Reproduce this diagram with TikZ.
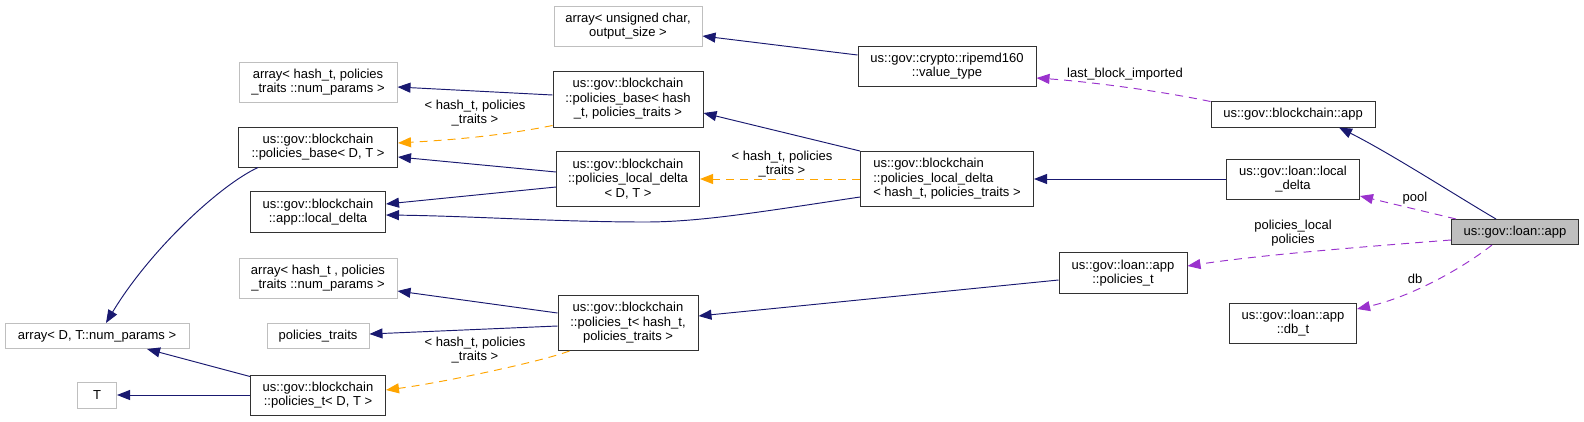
\documentclass[tikz,border=0pt]{standalone}
\usepackage{fontspec}
\setmainfont{Liberation Sans}
\usetikzlibrary{arrows.meta,calc}
\definecolor{navy}{RGB}{25,25,112}
\definecolor{dorange}{RGB}{255,165,0}
\definecolor{dpurple}{RGB}{154,50,205}
\definecolor{gborder}{RGB}{191,191,191}
\definecolor{bborder}{RGB}{50,50,50}
\definecolor{gfill}{RGB}{191,191,191}
\begin{document}
\begin{tikzpicture}[x=1pt,y=-1pt,
  font=\fontsize{13}{14.5}\selectfont,
  cls/.style={draw=bborder,line width=1pt,inner sep=0pt,align=center,fill=white},
  ext/.style={draw=gborder,line width=1pt,inner sep=0pt,align=center,fill=white},
  cur/.style={cls,fill=gfill},
  tip/.style={-{Triangle[length=13pt,width=10pt]}},
  inh/.style={draw=navy,line width=0.95pt,tip},
  tmpl/.style={draw=dorange,line width=0.95pt,dash pattern=on 8pt off 6pt,tip},
  usage/.style={draw=dpurple,line width=0.95pt,dash pattern=on 8pt off 6pt,tip},
  lbl/.style={inner sep=0pt,align=center}]
\useasboundingbox (0,0) rectangle (1584,421);

% nodes
\node[ext,minimum width=148pt,minimum height=40pt] (arrUC) at (628,26) {array< unsigned char,\\output\_size >};
\node[cls,minimum width=178pt,minimum height=40pt] (ripemd) at (947,66) {us::gov::crypto::ripemd160\\::value\_type};
\node[cls,minimum width=164pt,minimum height=26pt] (bapp) at (1293,114) {us::gov::blockchain::app};
\node[ext,minimum width=158pt,minimum height=40pt] (arrHP) at (318,82) {array< hash\_t, policies\\\_traits ::num\_params >};
\node[cls,minimum width=150pt,minimum height=56pt] (pbHP) at (628,99) {us::gov::blockchain\\::policies\_base< hash\\\_t, policies\_traits >};
\node[cls,minimum width=159pt,minimum height=40pt] (pbDT) at (318,147) {us::gov::blockchain\\::policies\_base< D, T >};
\node[cls,minimum width=143pt,minimum height=55pt] (pldDT) at (628,179) {us::gov::blockchain\\::policies\_local\_delta\\< D, T >};
\node[cls,minimum width=173pt,minimum height=55pt,align=left] (pldHP) at (947,179) {us::gov::blockchain\\::policies\_local\_delta\\< hash\_t, policies\_traits >};
\node[cls,minimum width=135pt,minimum height=41pt] (appLD) at (318,212) {us::gov::blockchain\\::app::local\_delta};
\node[cls,minimum width=133pt,minimum height=40pt] (lld) at (1293,179) {us::gov::loan::local\\\_delta};
\node[cur,minimum width=127pt,minimum height=25pt] (lapp) at (1515,232) {us::gov::loan::app};
\node[cls,minimum width=128pt,minimum height=41pt] (lpt) at (1123,273) {us::gov::loan::app\\::policies\_t};
\node[cls,minimum width=127pt,minimum height=40pt] (dbt) at (1293,323) {us::gov::loan::app\\::db\_t};
\node[ext,minimum width=158pt,minimum height=40pt] (arrHP2) at (318,278) {array< hash\_t , policies\\\_traits ::num\_params >};
\node[ext,minimum width=184pt,minimum height=25pt] (arrDT) at (97,336) {array< D, T::num\_params >};
\node[ext,minimum width=102pt,minimum height=25pt] (ptraits) at (318,336) {policies\_traits};
\node[cls,minimum width=140pt,minimum height=55pt] (ptHP) at (628,323) {us::gov::blockchain\\::policies\_t< hash\_t,\\policies\_traits >};
\node[ext,minimum width=39pt,minimum height=26pt] (T) at (97,395) {T};
\node[cls,minimum width=135pt,minimum height=40pt] (ptDT) at (318,395) {us::gov::blockchain\\::policies\_t< D, T >};

% edges
\draw[inh] ($(ripemd.west)+(0,-11)$) -- ($(arrUC.east)+(0,10)$);
\draw[usage] ($(bapp.north west)+(0,1)$) .. controls (1150,89) and (1080,81) .. ($(ripemd.east)+(0,12)$);
\draw[inh] ($(lapp.north)+(-19,0)$) .. controls (1460,198) and (1390,153) .. ($(bapp.south)+(46,0)$);
\draw[usage] ($(lapp.north west)+(5,0)$) -- ($(lld.east)+(0,17)$);
\draw[usage] ($(lapp.west)+(0,8)$) .. controls (1360,247) and (1260,255) .. ($(lpt.east)+(0,-7)$);
\draw[usage] ($(lapp.south)+(-23,0)$) .. controls (1460,270) and (1410,297) .. ($(dbt.east)+(0,-14)$);
\draw[inh] (lld.west) -- (pldHP.east);
\draw[inh] (pldHP.north west) -- ($(pbHP.east)+(0,14)$);
\draw[tmpl] (pldHP.west) -- (pldDT.east);
\draw[inh] ($(pldHP.west)+(0,18)$) .. controls (760,212) and (700,222) .. (645,222)
  .. controls (560,222) and (470,216) .. ($(appLD.east)+(0,3)$);
\draw[inh] ($(pbHP.west)+(0,-4)$) -- ($(arrHP.east)+(0,5)$);
\draw[tmpl] ($(pbHP.south west)+(0,-2)$) .. controls (500,136) and (450,140) .. ($(pbDT.east)+(0,-4)$);
\draw[inh] ($(pldDT.west)+(0,-7)$) -- ($(pbDT.east)+(0,10)$);
\draw[inh] ($(pldDT.west)+(0,8)$) -- ($(appLD.east)+(0,-8)$);
\draw[inh] ($(pbDT.south)+(-60,0)$) .. controls (220,185) and (150,250) .. ($(arrDT.north)+(9,0)$);
\draw[inh] ($(ptHP.west)+(0,-10)$) -- ($(arrHP2.east)+(0,13)$);
\draw[inh] ($(ptHP.west)+(0,3)$) -- ($(ptraits.east)+(0,-2)$);
\draw[tmpl] ($(ptHP.south west)+(12,0)$) .. controls (540,362) and (440,383) .. ($(ptDT.east)+(0,-5)$);
\draw[inh] ($(ptDT.north west)+(0,2)$) -- ($(arrDT.south)+(50,0)$);
\draw[inh] (ptDT.west) -- (T.east);
\draw[inh] ($(lpt.west)+(0,7)$) -- ($(ptHP.east)+(0,-7)$);

% labels
\node[lbl] (l1) at (1125,74) {last\_block\_imported};
\node[lbl] (l2) at (1415,198) {pool};
\node[lbl] (l3) at (1293,233) {policies\_local\\policies};
\node[lbl] (l4) at (1415,279) {db};
\node[lbl] (l5) at (782,164) {< hash\_t, policies\\\_traits >};
\node[lbl] (l6) at (475,113) {< hash\_t, policies\\\_traits >};
\node[lbl] (l7) at (475,350) {< hash\_t, policies\\\_traits >};
\end{tikzpicture}
\end{document}
